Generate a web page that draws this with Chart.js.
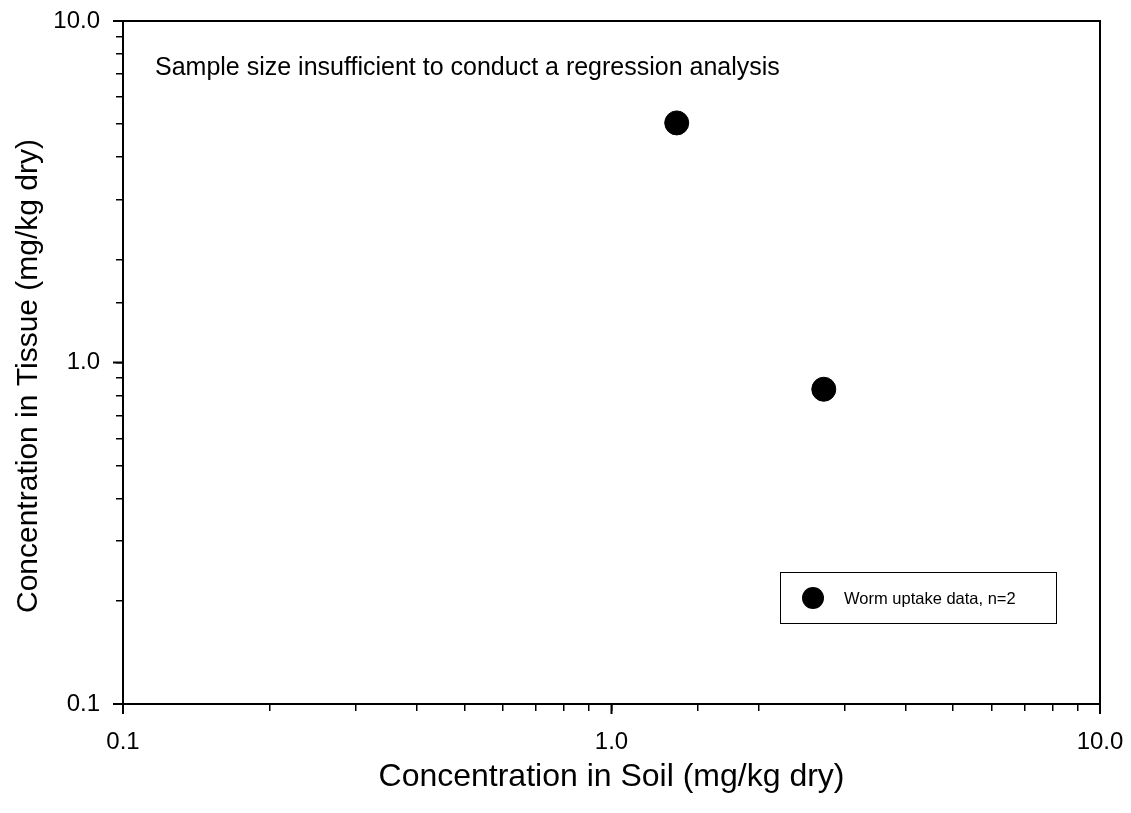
<!DOCTYPE html>
<html>
<head>
<meta charset="utf-8">
<script src="https://cdn.jsdelivr.net/npm/chart.js@4.4.0/dist/chart.umd.min.js"></script>
<style>
  html, body { margin: 0; padding: 0; background: #fff; }
  #wrap { width: 1131px; height: 813px; }
</style>
</head>
<body>
<div id="wrap"><canvas id="c" width="1131" height="813"></canvas></div>
<script>
// worm uptake data
const soilConc = [1.36, 2.72];
const tissueConc = [5.03, 0.835];
const majorTicks = [0.1, 1, 10];
const seriesLabel = 'Worm uptake data, n=2';
const note = 'Sample size insufficient to conduct a regression analysis';
const yTitle = 'Concentration in Tissue (mg/kg dry)';

const FONT = 'Liberation Sans, Arial, sans-serif';

function tickLabel(v) {
  return majorTicks.includes(v) ? v.toFixed(1) : '';
}

// frame, longer major ticks, y title, note text and legend box
const extras = {
  id: 'extras',
  afterDraw(chart) {
    const { ctx, chartArea: a, scales } = chart;
    ctx.save();
    ctx.strokeStyle = '#000';
    ctx.lineWidth = 2;
    ctx.strokeRect(a.left, a.top, a.right - a.left, a.bottom - a.top);

    ctx.beginPath();
    majorTicks.forEach(v => {
      const px = scales.x.getPixelForValue(v);
      ctx.moveTo(px, a.bottom);
      ctx.lineTo(px, a.bottom + 10);
      const py = scales.y.getPixelForValue(v);
      ctx.moveTo(a.left, py);
      ctx.lineTo(a.left - 10, py);
    });
    ctx.stroke();

    ctx.fillStyle = '#000';
    ctx.textBaseline = 'middle';

    // y title sits a bit below the axis middle
    ctx.save();
    ctx.translate(29, 376);
    ctx.rotate(-Math.PI / 2);
    ctx.textAlign = 'center';
    ctx.font = '30px ' + FONT;
    ctx.fillText(yTitle, 0, 0);
    ctx.restore();

    ctx.font = '25px ' + FONT;
    ctx.fillText(note, a.left + 32, 68);

    // legend
    ctx.lineWidth = 1;
    ctx.strokeRect(780.5, 572.5, 276, 51);
    ctx.beginPath();
    ctx.arc(813, 598, 11, 0, Math.PI * 2);
    ctx.fill();
    ctx.font = '16.5px ' + FONT;
    ctx.fillText(seriesLabel, 844, 599);
    ctx.restore();
  }
};

new Chart(document.getElementById('c'), {
  type: 'scatter',
  data: {
    datasets: [{
      label: seriesLabel,
      data: soilConc.map((x, i) => ({ x, y: tissueConc[i] })),
      backgroundColor: '#000',
      borderColor: '#000',
      pointRadius: 12,
      pointHoverRadius: 12
    }]
  },
  options: {
    responsive: false,
    animation: false,
    layout: { padding: { top: 21, right: 31, left: 0, bottom: 0 } },
    plugins: { legend: { display: false }, tooltip: { enabled: false } },
    scales: {
      x: {
        type: 'logarithmic',
        min: 0.1, max: 10,
        afterFit(s) { s.height = 109; s.paddingLeft = 0; s.paddingRight = 0; },
        border: { display: false },
        grid: { drawOnChartArea: false, drawTicks: true, tickLength: 7, color: '#000', lineWidth: 1.5 },
        ticks: {
          autoSkip: false, maxRotation: 0, padding: 17,
          color: '#000', font: { family: FONT, size: 24 },
          callback: tickLabel
        },
        title: {
          display: true, text: 'Concentration in Soil (mg/kg dry)',
          color: '#000', font: { family: FONT, size: 32 }, padding: { top: 0, bottom: 17 }
        }
      },
      y: {
        type: 'logarithmic',
        min: 0.1, max: 10,
        afterFit(s) { s.width = 123; s.paddingTop = 0; s.paddingBottom = 0; },
        border: { display: false },
        grid: { drawOnChartArea: false, drawTicks: true, tickLength: 7, color: '#000', lineWidth: 1.5 },
        ticks: {
          autoSkip: false, padding: 16,
          color: '#000', font: { family: FONT, size: 24 },
          callback: tickLabel
        },
        title: { display: false }
      }
    }
  },
  plugins: [extras]
});
</script>
</body>
</html>
